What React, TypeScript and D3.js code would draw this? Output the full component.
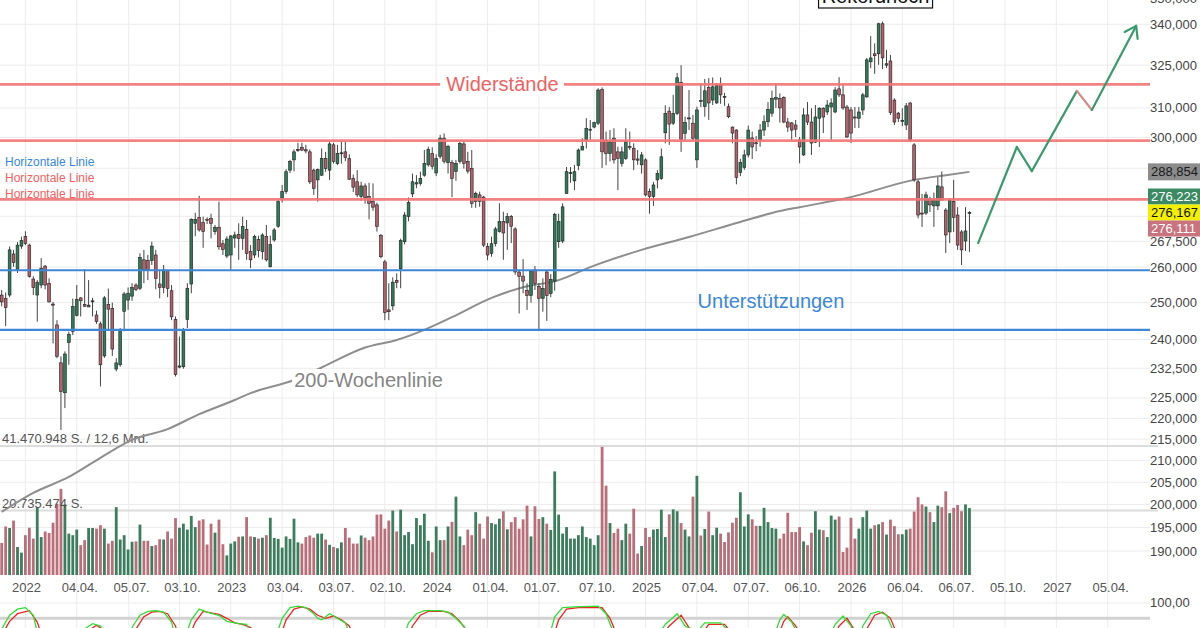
import * as d3 from 'd3'
import type { ReactElement } from 'react'

// weekly candles, first candle = week of Mon 22.11.2021
const firstWeek = new Date(2021, 10, 22)
const axisEnd = new Date(2027, 3, 5)

const opens = [
  252.1, 251.2, 252.1, 263.8, 259.4, 266.1, 268.9, 266.4, 256.6, 252.1,
  254.9, 260.3, 255.4, 249.6, 243.9, 233.9, 226.3, 239.2, 242.2, 246.5,
  251.3, 249.5, 248.8, 250.2, 246.6, 244.2, 235.7, 249.5, 248.4, 232.3,
  233.4, 247.6, 250.7, 251.8, 254.9, 254.0, 262.1, 261.9, 261.9, 263.5,
  255.2, 254.2, 259.0, 253.3, 245.4, 232.8, 232.9, 245.4, 255.2, 272.9,
  274.7, 273.1, 274.1, 274.4, 270.4, 271.7, 266.8, 263.2, 263.5, 268.5,
  269.6, 268.4, 271.1, 264.5, 263.5, 268.0, 264.5, 269.0, 260.1, 267.9,
  272.0, 280.6, 282.6, 289.4, 292.7, 295.8, 296.8, 296.0, 295.3, 289.4,
  286.3, 287.8, 293.1, 289.4, 297.6, 291.5, 294.9, 295.3, 293.1, 286.8,
  285.7, 281.1, 284.4, 281.1, 279.5, 278.5, 269.2, 261.5, 248.0, 249.1,
  256.2, 259.5, 267.4, 274.9, 281.9, 285.0, 285.2, 287.8, 291.1, 294.8,
  288.5, 293.8, 299.8, 291.8, 291.8, 289.0, 292.2, 297.9, 292.2, 290.0,
  279.6, 281.6, 280.9, 266.0, 264.0, 266.9, 270.4, 273.4, 273.0, 275.0,
  271.2, 258.6, 257.4, 253.4, 252.0, 259.2, 254.5, 251.2, 258.6, 252.5,
  256.0, 267.4, 267.6, 282.0, 288.3, 286.0, 290.9, 295.9, 299.2, 302.5,
  303.5, 304.8, 316.4, 299.0, 294.8, 299.8, 295.3, 291.6, 293.1, 297.0,
  296.5, 293.0, 291.1, 292.7, 282.6, 281.1, 286.3, 286.8, 301.6, 308.9,
  304.8, 308.1, 318.9, 301.4, 306.4, 304.8, 292.7, 312.5, 310.5, 317.1,
  312.7, 311.7, 317.9, 314.0, 310.4, 303.5, 302.5, 288.7, 290.3, 294.3,
  299.9, 298.3, 299.2, 302.5, 305.3, 308.2, 313.0, 313.3, 313.6, 305.2,
  304.9, 304.2, 299.2, 294.3, 307.6, 305.2, 298.5, 306.5, 309.9, 308.6,
  310.3, 308.6, 316.6, 314.5, 310.3, 309.3, 306.9, 306.5, 309.3, 313.8,
  326.2, 329.1, 329.1, 340.2, 325.0, 326.5, 312.7, 308.2, 305.4, 304.2,
  311.7, 297.6, 285.7, 276.0, 276.0, 280.3, 278.2, 278.2, 284.1, 276.9,
  270.3, 279.5, 275.4, 270.3, 267.6, 275.9,
]

const highs = [
  253.5, 252.8, 266.0, 265.0, 267.3, 268.9, 270.5, 266.8, 257.4, 256.3,
  262.6, 260.6, 256.8, 250.2, 245.2, 235.6, 236.9, 242.1, 251.1, 254.9,
  251.5, 259.4, 256.3, 251.3, 247.8, 244.8, 251.8, 253.9, 250.0, 235.1,
  243.1, 253.0, 254.2, 255.4, 255.4, 264.0, 265.0, 263.5, 267.4, 265.0,
  259.2, 260.6, 259.2, 254.9, 246.2, 240.8, 243.1, 255.4, 274.4, 276.1,
  281.3, 274.9, 274.7, 275.8, 272.4, 279.5, 267.9, 269.0, 269.4, 270.4,
  272.9, 274.9, 273.9, 266.4, 269.5, 269.2, 269.9, 272.4, 269.2, 271.5,
  280.0, 284.7, 289.7, 292.7, 296.1, 298.3, 298.3, 297.6, 296.1, 289.9,
  289.9, 296.4, 295.3, 298.6, 298.3, 297.6, 298.6, 298.6, 294.5, 288.0,
  289.4, 285.7, 285.2, 285.4, 285.2, 279.2, 269.7, 262.1, 255.4, 257.1,
  258.2, 268.3, 276.3, 280.8, 288.3, 287.8, 288.9, 295.9, 297.0, 296.8,
  294.5, 300.9, 301.4, 297.6, 292.7, 292.7, 298.6, 298.6, 295.3, 295.9,
  282.6, 282.6, 281.3, 267.0, 268.9, 271.8, 279.0, 276.4, 276.0, 275.4,
  271.7, 259.2, 262.3, 255.4, 259.2, 260.3, 255.4, 256.8, 259.2, 258.0,
  276.1, 275.8, 279.0, 290.4, 290.4, 291.1, 296.4, 299.8, 306.5, 305.9,
  305.3, 316.8, 317.1, 302.0, 302.5, 303.1, 297.0, 297.0, 303.1, 302.0,
  298.1, 295.9, 295.3, 293.2, 283.6, 285.7, 289.4, 296.4, 310.9, 310.3,
  314.5, 322.2, 325.0, 307.0, 316.2, 307.6, 310.4, 318.6, 320.1, 320.4,
  320.6, 318.6, 320.6, 315.2, 311.5, 303.7, 302.8, 293.0, 296.0, 304.0,
  302.0, 300.5, 304.5, 307.5, 312.0, 316.0, 318.5, 315.0, 314.0, 306.6,
  305.2, 305.9, 300.2, 309.9, 312.0, 309.9, 311.0, 310.2, 310.2, 312.7,
  313.3, 317.2, 320.7, 317.9, 311.0, 310.3, 310.3, 310.3, 315.2, 327.6,
  335.6, 332.9, 340.6, 341.0, 330.5, 328.7, 313.3, 308.6, 309.9, 311.7,
  312.0, 298.2, 286.3, 281.9, 282.6, 281.0, 282.3, 287.2, 289.0, 277.5,
  280.6, 286.3, 277.8, 270.9, 277.8, 276.6,
]

const lows = [
  249.0, 243.6, 251.5, 260.1, 258.3, 265.3, 266.4, 257.0, 252.1, 244.8,
  254.0, 253.7, 250.0, 239.0, 235.1, 217.2, 222.5, 233.4, 241.2, 246.2,
  246.2, 248.8, 248.8, 246.2, 244.2, 227.9, 235.2, 242.6, 235.7, 231.7,
  232.9, 242.2, 248.0, 250.5, 253.2, 253.5, 255.4, 256.3, 260.6, 253.7,
  251.2, 252.6, 251.5, 245.2, 230.4, 232.5, 232.4, 243.1, 252.6, 269.0,
  270.4, 265.6, 272.7, 268.4, 269.5, 265.0, 263.5, 262.6, 259.2, 265.6,
  262.1, 265.0, 262.1, 259.7, 262.6, 262.8, 262.2, 261.6, 259.9, 267.4,
  271.5, 279.2, 281.9, 288.5, 289.0, 295.3, 295.6, 294.8, 285.0, 281.6,
  279.5, 287.5, 288.9, 286.3, 291.5, 291.0, 291.5, 292.3, 286.3, 282.5,
  280.9, 279.8, 278.9, 274.1, 276.7, 270.4, 262.5, 245.2, 245.2, 247.9,
  254.0, 254.0, 266.6, 273.5, 280.9, 283.7, 284.5, 287.3, 290.5, 289.6,
  287.5, 293.1, 291.5, 288.3, 280.9, 286.0, 291.5, 289.9, 288.3, 277.6,
  277.6, 277.9, 265.8, 262.0, 263.0, 266.0, 270.1, 262.1, 265.0, 267.0,
  257.8, 247.0, 252.6, 248.0, 250.0, 253.5, 242.3, 247.5, 245.0, 251.5,
  253.3, 265.6, 267.0, 281.9, 285.4, 283.1, 289.4, 295.9, 296.4, 299.2,
  303.1, 304.2, 290.1, 291.0, 292.2, 291.5, 283.1, 290.5, 292.7, 295.9,
  289.4, 291.1, 288.3, 281.1, 275.8, 278.2, 283.6, 286.3, 298.1, 297.6,
  304.2, 307.6, 295.3, 299.2, 302.5, 299.2, 290.1, 310.3, 307.0, 305.9,
  311.0, 311.4, 311.4, 310.7, 306.5, 298.1, 284.9, 287.5, 289.5, 293.5,
  293.0, 295.5, 297.0, 300.5, 303.5, 307.0, 310.0, 305.0, 304.8, 301.9,
  299.2, 300.2, 291.6, 294.0, 304.2, 294.3, 298.2, 296.9, 301.5, 307.6,
  299.2, 308.2, 313.8, 309.3, 299.9, 298.2, 303.2, 303.2, 307.6, 313.5,
  323.9, 321.9, 325.1, 323.6, 324.0, 307.6, 304.2, 305.2, 303.8, 302.5,
  298.5, 285.7, 274.4, 271.8, 275.4, 276.3, 271.8, 276.9, 280.0, 264.1,
  267.0, 270.3, 265.0, 260.6, 264.7, 264.4,
]

const closes = [
  250.2, 248.6, 265.0, 261.3, 266.4, 267.7, 266.9, 257.3, 254.2, 255.7,
  259.7, 254.9, 250.2, 249.3, 235.6, 226.6, 236.2, 241.4, 248.9, 250.9,
  250.5, 249.0, 249.3, 250.5, 244.8, 233.4, 251.3, 248.2, 237.5, 233.9,
  242.6, 252.4, 252.6, 254.2, 253.7, 262.8, 259.2, 259.2, 266.1, 256.8,
  254.2, 259.2, 253.9, 246.1, 230.9, 233.1, 242.6, 253.9, 274.1, 274.1,
  270.9, 270.4, 273.9, 272.9, 271.7, 265.9, 265.1, 268.2, 269.1, 269.4,
  268.4, 271.9, 264.0, 262.1, 269.0, 264.8, 269.4, 262.1, 266.6, 270.9,
  279.5, 282.6, 288.9, 292.2, 295.3, 296.1, 295.9, 295.6, 285.7, 283.6,
  289.6, 293.1, 289.9, 297.9, 292.2, 294.8, 295.0, 293.5, 286.5, 284.0,
  281.6, 284.4, 280.7, 279.0, 277.8, 272.0, 263.0, 247.3, 247.5, 255.7,
  255.6, 267.7, 275.4, 279.2, 285.7, 285.4, 286.8, 291.5, 296.1, 290.6,
  293.1, 299.8, 292.2, 297.0, 286.8, 291.6, 298.1, 291.6, 289.1, 279.0,
  282.1, 279.6, 266.4, 263.5, 266.8, 271.2, 273.4, 270.0, 275.0, 272.0,
  258.6, 257.3, 256.0, 252.0, 258.9, 255.4, 251.2, 253.9, 252.0, 256.5,
  275.6, 273.4, 277.9, 288.9, 288.6, 288.9, 295.9, 297.0, 303.1, 302.8,
  305.0, 316.2, 295.3, 294.8, 298.6, 292.7, 293.2, 295.3, 298.6, 296.8,
  292.7, 292.6, 294.3, 281.6, 281.1, 284.7, 288.3, 293.7, 308.1, 304.5,
  308.1, 320.5, 299.4, 305.0, 306.6, 299.8, 309.3, 312.2, 315.9, 311.7,
  317.3, 317.9, 314.5, 313.7, 307.0, 301.5, 287.1, 291.8, 294.3, 302.5,
  296.9, 298.0, 302.5, 305.3, 309.5, 313.3, 313.6, 310.0, 305.2, 303.5,
  302.5, 302.8, 296.9, 307.6, 305.2, 298.2, 306.9, 309.9, 306.9, 311.0,
  311.7, 316.2, 314.5, 310.0, 300.2, 301.5, 306.6, 308.6, 314.5, 326.9,
  327.6, 328.4, 340.2, 327.6, 325.5, 308.4, 305.2, 306.5, 305.8, 310.7,
  299.2, 286.3, 275.4, 275.7, 281.6, 278.5, 280.0, 284.4, 280.0, 269.4,
  280.0, 274.7, 266.4, 265.0, 270.6, 276.2,
]

// weekly volume in million shares
const volumesMio = [
  10.3, 15.6, 15.1, 17.5, 9.0, 7.2, 12.8, 15.2, 11.7, 21.8,
  12.2, 14.0, 13.5, 16.8, 22.9, 27.7, 22.7, 13.3, 12.8, 14.6,
  9.6, 11.2, 15.1, 15.1, 14.9, 16.0, 14.9, 10.1, 11.0, 21.8,
  11.4, 12.8, 8.2, 10.7, 10.8, 16.2, 11.0, 11.0, 9.3, 9.6,
  11.5, 11.4, 14.0, 11.7, 18.3, 15.2, 16.5, 14.6, 19.0, 15.4,
  17.5, 17.9, 9.8, 16.5, 13.6, 17.8, 9.9, 6.3, 10.1, 10.8,
  12.3, 12.4, 18.6, 12.4, 12.2, 11.7, 12.0, 12.8, 18.4, 11.9,
  11.6, 8.8, 12.4, 11.6, 18.1, 10.5, 10.1, 12.2, 12.7, 12.0,
  13.3, 13.3, 11.4, 9.7, 9.0, 8.6, 10.5, 15.1, 12.0, 10.1,
  10.1, 12.7, 12.0, 11.2, 12.4, 19.4, 19.5, 14.9, 17.5, 20.7,
  14.0, 21.0, 12.8, 13.8, 9.9, 18.3, 16.0, 19.7, 11.0, 7.3,
  15.6, 11.2, 11.2, 15.6, 17.1, 25.2, 12.4, 9.6, 14.6, 12.8,
  20.2, 16.5, 11.7, 18.8, 16.7, 16.3, 18.1, 20.5, 14.7, 17.0,
  18.6, 14.9, 17.9, 22.3, 12.4, 22.1, 18.0, 18.6, 16.5, 14.5,
  33.3, 19.4, 13.3, 15.4, 11.7, 11.7, 12.8, 15.6, 12.2, 11.7,
  9.6, 12.8, 41.2, 28.7, 16.7, 13.5, 14.9, 11.2, 16.5, 13.3,
  21.3, 6.9, 9.3, 15.1, 12.2, 14.6, 14.8, 21.0, 12.2, 19.5,
  21.1, 20.5, 16.7, 14.6, 12.4, 25.2, 31.9, 12.7, 14.8, 20.4,
  12.8, 15.2, 13.3, 10.6, 13.7, 16.8, 18.4, 26.6, 15.6, 19.5,
  17.9, 15.8, 15.8, 21.6, 17.0, 15.1, 14.9, 11.7, 13.3, 20.0,
  13.8, 13.8, 15.4, 10.8, 9.6, 13.6, 20.5, 14.6, 14.4, 12.2,
  19.1, 17.8, 18.8, 7.4, 8.8, 18.4, 11.7, 14.9, 18.6, 20.7,
  14.9, 16.0, 16.3, 17.0, 13.0, 17.8, 15.7, 13.1, 13.1, 14.6,
  14.9, 20.4, 25.0, 22.7, 22.0, 20.2, 17.0, 22.3, 21.8, 26.9,
  19.9, 21.6, 22.5, 20.5, 22.7, 21.5,
]
const volumeMax = 41.470948
const volumeHalf = 20.735474
const volumeMaxLabel = '41.470.948 S. / 12,6 Mrd.'
const volumeHalfLabel = '20.735.474 S.'

// 200-week moving average, sampled along the drawn line
const maWeeks = [0, 8, 17, 25, 33, 42, 50, 59, 63, 74, 81, 92, 100, 107, 114, 124, 132, 141, 149, 162, 174, 187, 197, 202, 214, 231, 239, 245]
const maValues = [198.4, 202.6, 206.2, 210.6, 214.8, 217.4, 221.0, 224.5, 226.2, 229.5, 232.7, 237.9, 239.9, 242.6, 246.0, 251.3, 254.3, 256.3, 260.0, 265.0, 268.8, 273.3, 276.6, 277.8, 280.6, 286.3, 287.8, 288.854]

// stochastic oscillator (only the upper band is in view)
const stochKWeeks = [0, 2, 4, 6, 8, 9, 11, 19, 21, 23, 25, 27, 31, 33, 35, 37, 39, 41, 43, 44, 46, 48, 50, 52, 54, 55, 57, 60, 62, 64, 69, 71, 73, 75, 77, 79, 80, 81, 82, 83, 85, 87, 89, 101, 103, 105, 107, 111, 113, 115, 117, 119, 138, 140, 142, 145, 151, 153, 155, 165, 168, 171, 173, 176, 178, 182, 184, 186, 195, 197, 198, 200, 202, 209, 211, 213, 215, 217, 218, 220, 222, 224, 226, 228, 245]
const stochKValues = [66, 84, 92, 94, 84, 62, 45, 50, 66, 73, 70, 55, 52, 68, 84, 89, 90, 88, 75, 55, 50, 78, 92, 88, 85, 84, 76, 73, 72, 50, 50, 80, 94, 96, 94, 86, 80, 78, 82, 86, 80, 74, 50, 45, 74, 86, 90, 90, 88, 80, 70, 50, 45, 82, 94, 95, 96, 86, 60, 50, 72, 86, 70, 62, 74, 74, 64, 50, 50, 78, 85, 75, 55, 50, 72, 83, 70, 50, 70, 86, 89, 84, 60, 45, 48]
const stochDWeeks = [0, 2, 4, 7, 9, 10, 12, 20, 22, 24, 26, 28, 32, 34, 36, 38, 40, 42, 44, 45, 47, 49, 51, 53, 55, 57, 59, 61, 63, 65, 70, 72, 74, 76, 78, 80, 82, 84, 86, 88, 90, 102, 104, 106, 108, 112, 114, 116, 118, 120, 139, 141, 143, 146, 152, 154, 156, 166, 169, 172, 174, 177, 179, 183, 185, 187, 196, 198, 199, 201, 203, 210, 212, 214, 216, 218, 219, 221, 223, 225, 227, 229, 245]
const stochDValues = [58, 76, 86, 90, 75, 60, 45, 50, 64, 71, 64, 50, 52, 66, 82, 88, 89, 86, 70, 52, 50, 75, 89, 87, 85, 80, 74, 72, 68, 48, 48, 78, 92, 95, 92, 84, 80, 83, 78, 70, 48, 45, 70, 84, 89, 89, 86, 76, 62, 45, 45, 78, 92, 94, 94, 80, 55, 50, 70, 84, 68, 58, 72, 72, 60, 48, 50, 76, 82, 70, 52, 50, 70, 80, 64, 50, 66, 84, 88, 80, 55, 45, 48]

const resistanceLevels = [318.2, 299.0, 280.2]
const supportLevels = [259.1, 242.6]

// projected path drawn to the right of the last candle
const forecastWeeks = [247.2, 257.0, 260.8, 272.2, 276.0, 287.2]
const forecastValues = [267.0, 296.9, 289.1, 315.9, 309.3, 339.4]

// grid levels; the labelled ones are those not hidden behind the price tags
const priceTicks = [350, 340, 325, 310, 300, 290, 280, 275, 267.5, 260, 250, 240, 232.5, 225, 220, 215, 210, 205, 200, 195, 190]
const priceTickLabels = [350, 340, 325, 310, 300, 267.5, 260, 250, 240, 232.5, 225, 220, 215, 210, 205, 200, 195, 190]

const dateTicks = [
  '2022-01-03', '2022-04-04', '2022-07-05', '2022-10-03', '2023-01-02', '2023-04-03',
  '2023-07-03', '2023-10-02', '2024-01-01', '2024-04-01', '2024-07-01', '2024-10-07',
  '2025-01-06', '2025-04-07', '2025-07-07', '2025-10-06', '2026-01-05', '2026-04-06',
  '2026-07-06', '2026-10-05', '2027-01-04', '2027-04-05',
]
const dateTickLabels = [
  '2022', '04.04.', '05.07.', '03.10.', '2023', '03.04.', '03.07.', '02.10.', '2024', '01.04.', '01.07.',
  '07.10.', '2025', '07.04.', '07.07.', '06.10.', '2026', '06.04.', '06.07.', '05.10.', '2027', '05.04.',
]

const bidAskLast = [276.223, 276.167, 276.111]

const fontFamily = '"Liberation Sans", Arial, Helvetica, sans-serif'
const upColor = '#2f7a58'
const downColor = '#b3606b'
const volUpColor = '#3c7d5e'
const volDownColor = '#b96f79'
const redLine = '#f27676'
const blueLine = '#3d86d8'
const gridColor = '#ececec'
const forecastColors = ['#3a9a6c', '#3a9a6c', '#3a9a6c', '#d88a8a', '#3a9a6c']

const plotRight = 1150
const deLocale = d3.formatLocale({ decimal: ',', thousands: '.', grouping: [3], currency: ['', ' €'] })
const fmtPrice = deLocale.format('.3f')
const fmtOsc = deLocale.format('.2f')

export default function App(): ReactElement {
  const xScale = d3.scaleTime().domain([firstWeek, axisEnd]).range([1.7, 1107.7])
  const weekX = (w: number) => xScale(new Date(firstWeek.getTime() + w * 7 * 86400000))
  const priceY = d3.scaleLog().domain([190, 340]).range([551, 24.3])
  const volY = d3.scaleLinear().domain([0, volumeMax]).range([575, 446])
  const oscY = d3.scaleLinear().domain([80, 100]).range([618.3, 603])
  const parseDay = d3.timeParse('%Y-%m-%d')

  const maLine = d3
    .line<number>()
    .x((_, i) => weekX(maWeeks[i]))
    .y((d) => priceY(d))
    .curve(d3.curveMonotoneX)
  const kLine = d3
    .line<number>()
    .x((_, i) => weekX(stochKWeeks[i]))
    .y((d) => oscY(d))
  const dLine = d3
    .line<number>()
    .x((_, i) => weekX(stochDWeeks[i]))
    .y((d) => oscY(d))

  const recordIdx = d3.maxIndex(highs)
  const recordX = weekX(recordIdx) - 7

  const fc = forecastWeeks.map((w, i) => [weekX(w), priceY(forecastValues[i])] as [number, number])
  const tip = fc[fc.length - 1]
  const prev = fc[fc.length - 2]
  const back = Math.atan2(prev[1] - tip[1], prev[0] - tip[0])
  const arrowLen = 13
  const arrowArms = [-0.6, 0.6].map((a) => [tip[0] + arrowLen * Math.cos(back + a), tip[1] + arrowLen * Math.sin(back + a)])

  const quoteY = priceY(bidAskLast[1])
  const quoteBoxes = [
    { value: bidAskLast[0], y: quoteY - 16, fill: '#3c8a64', text: '#fff' },
    { value: bidAskLast[1], y: quoteY, fill: '#f2f000', text: '#111' },
    { value: bidAskLast[2], y: quoteY + 16, fill: '#c9737e', text: '#fff' },
  ]
  const maLast = maValues[maValues.length - 1]

  return (
    <svg
      width={1200}
      height={628}
      style={{ position: 'absolute', left: 0, top: 0, background: '#fff' }}
      fontFamily={fontFamily}
    >
      <defs>
        <clipPath id="osc-clip">
          <rect x={0} y={598} width={plotRight} height={40} />
        </clipPath>
        <clipPath id="osc-label-clip">
          <rect x={plotRight} y={598} width={60} height={40} />
        </clipPath>
      </defs>

      {/* grid */}
      {dateTicks.map((d) => {
        const x = xScale(parseDay(d)!)
        return <line key={d} x1={x} x2={x} y1={0} y2={628} stroke={gridColor} strokeWidth={1} />
      })}
      {priceTicks.map((t) => (
        <line key={t} x1={0} x2={plotRight} y1={priceY(t)} y2={priceY(t)} stroke={gridColor} strokeWidth={1} />
      ))}
      <line x1={0} x2={plotRight} y1={oscY(100)} y2={oscY(100)} stroke={gridColor} strokeWidth={1} />

      {/* volume reference lines */}
      <line x1={0} x2={1158} y1={volY(volumeMax)} y2={volY(volumeMax)} stroke="#dcdcdc" strokeWidth={2} />
      <line x1={0} x2={1158} y1={volY(volumeHalf)} y2={volY(volumeHalf)} stroke="#dcdcdc" strokeWidth={2} />

      {/* volume */}
      {volumesMio.map((v, i) => {
        const up = closes[i] >= opens[i]
        const x = weekX(i)
        return (
          <rect
            key={i}
            x={x - 1.4}
            y={volY(v)}
            width={2.8}
            height={volY(0) - volY(v)}
            fill={up ? volUpColor : volDownColor}
          />
        )
      })}
      <text x={2} y={440} fontSize={13} fill="#555" dominantBaseline="middle">
        {volumeMaxLabel}
      </text>
      <text x={2} y={505} fontSize={13} fill="#555" dominantBaseline="middle">
        {volumeHalfLabel}
      </text>

      {/* 200-week line */}
      <path d={maLine(maValues) ?? ''} fill="none" stroke="#8e8e8e" strokeWidth={2} />

      {/* candles */}
      {opens.map((o, i) => {
        const c = closes[i]
        const up = c >= o
        const x = weekX(i)
        const yTop = priceY(Math.max(o, c))
        const yBot = priceY(Math.min(o, c))
        return (
          <g key={i}>
            <line x1={x} x2={x} y1={priceY(highs[i])} y2={priceY(lows[i])} stroke="#444" strokeWidth={1} />
            <rect
              x={x - 1.4}
              y={yTop}
              width={2.8}
              height={Math.max(1, yBot - yTop)}
              fill={up ? upColor : downColor}
              stroke="#1e1e1e"
              strokeWidth={0.6}
            />
          </g>
        )
      })}

      {/* horizontal resistance / support lines */}
      {resistanceLevels.map((v) => (
        <line key={v} x1={0} x2={plotRight} y1={priceY(v)} y2={priceY(v)} stroke={redLine} strokeWidth={2.8} opacity={0.9} />
      ))}
      {supportLevels.map((v) => (
        <line key={v} x1={0} x2={plotRight} y1={priceY(v)} y2={priceY(v)} stroke={blueLine} strokeWidth={2.2} />
      ))}

      {/* annotations */}
      <rect x={440} y={priceY(resistanceLevels[0]) - 12} width={124} height={24} fill="#fff" />
      <text x={502.5} y={priceY(resistanceLevels[0])} fontSize={20} fill="#f35f5f" textAnchor="middle" dominantBaseline="central">
        Widerstände
      </text>
      <text x={771} y={301} fontSize={20} fill="#3a87d8" textAnchor="middle" dominantBaseline="central">
        Unterstützungen
      </text>
      <rect x={292} y={369} width={153} height={22} fill="#fff" />
      <text x={368.5} y={380} fontSize={20} fill="#858585" textAnchor="middle" dominantBaseline="central">
        200-Wochenlinie
      </text>
      <rect x={recordX - 57} y={-20} width={114} height={28} fill="#fff" stroke="#111" strokeWidth={1.2} />
      <text x={recordX} y={3} fontSize={20} fill="#111" textAnchor="middle">
        Rekordhoch
      </text>

      <text x={5} y={162} fontSize={12} fill="#3a87d8" dominantBaseline="central">
        Horizontale Linie
      </text>
      <text x={5} y={178} fontSize={12} fill="#f35f5f" dominantBaseline="central">
        Horizontale Linie
      </text>
      <text x={5} y={194} fontSize={12} fill="#f35f5f" dominantBaseline="central">
        Horizontale Linie
      </text>

      {/* projection arrow */}
      {fc.slice(1).map((p, i) => (
        <line
          key={i}
          x1={fc[i][0]}
          y1={fc[i][1]}
          x2={p[0]}
          y2={p[1]}
          stroke={forecastColors[i]}
          strokeWidth={2.2}
          strokeLinecap="round"
        />
      ))}
      {arrowArms.map((a, i) => (
        <line key={i} x1={tip[0]} y1={tip[1]} x2={a[0]} y2={a[1]} stroke={forecastColors[4]} strokeWidth={2.2} strokeLinecap="round" />
      ))}

      {/* right axis */}
      {priceTickLabels.map((t) => (
        <text key={t} x={1150} y={priceY(t)} fontSize={13} fill="#444" dominantBaseline="central">
          {fmtPrice(t)}
        </text>
      ))}
      <rect x={1148} y={priceY(maLast) - 8.5} width={52} height={17} fill="#8c8c8c" />
      <text x={1151} y={priceY(maLast)} fontSize={13} fill="#1a1a1a" dominantBaseline="central">
        {fmtPrice(maLast)}
      </text>
      {quoteBoxes.map((b) => (
        <g key={b.value}>
          <rect x={1148} y={b.y - 8} width={52} height={16} fill={b.fill} />
          <text x={1151} y={b.y} fontSize={13} fill={b.text} dominantBaseline="central">
            {fmtPrice(b.value)}
          </text>
        </g>
      ))}

      {/* bottom axis */}
      {dateTicks.map((d, i) => {
        const x = xScale(parseDay(d)!)
        const label = dateTickLabels[i]
        return (
          <text key={d} x={x + (label.endsWith('.') ? 3 : 1)} y={587} fontSize={13} fill="#555" textAnchor="middle" dominantBaseline="central">
            {label}
          </text>
        )
      })}

      {/* oscillator pane */}
      <line x1={0} x2={plotRight} y1={oscY(80)} y2={oscY(80)} stroke="#d2d2d2" strokeWidth={3} />
      <g clipPath="url(#osc-clip)">
        <path d={dLine(stochDValues) ?? ''} fill="none" stroke="#ee2222" strokeWidth={1.3} />
        <path d={kLine(stochKValues) ?? ''} fill="none" stroke="#33dd33" strokeWidth={1.3} />
      </g>
      <g clipPath="url(#osc-label-clip)">
        <text x={1150} y={oscY(100) - 1} fontSize={13} fill="#444" dominantBaseline="central">
          {fmtOsc(100)}
        </text>
      </g>
    </svg>
  )
}
